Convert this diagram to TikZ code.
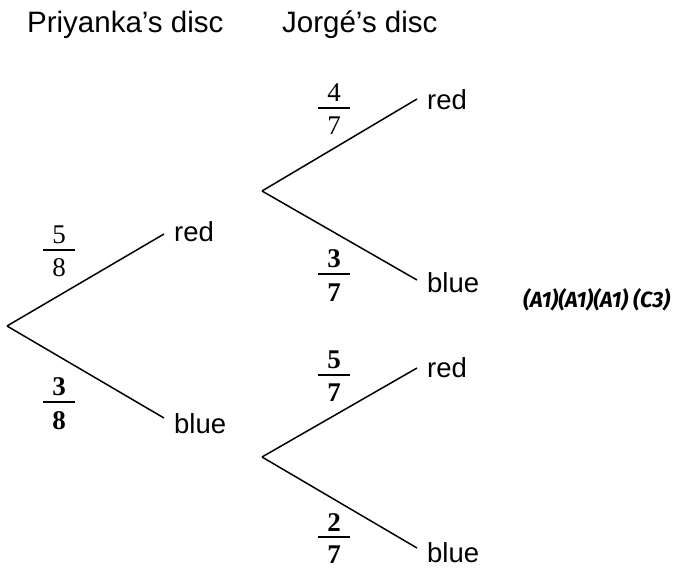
\documentclass[tikz,border=0pt]{standalone}
\usepackage{fontspec}
\setmainfont{Liberation Sans}
\newfontfamily\serifnum{Liberation Serif}
\newfontfamily\firafont{Fira Sans}
\newcommand{\myfrac}[2]{\vbox{\offinterlineskip\hbox to 32pt{\hss#1\hss}\kern5pt\hrule height 2.2pt\kern8pt\hbox to 32pt{\hss#2\hss}}}
\begin{document}
\begin{tikzpicture}[x=1pt,y=-1pt,
  branch/.style={line width=1.5pt},
  lab/.style={anchor=base west,inner sep=0pt,font=\fontsize{27.5}{33}\selectfont},
  head/.style={anchor=base west,inner sep=0pt,font=\fontsize{29.5}{35}\selectfont},
  frn/.style={inner sep=0pt,font=\fontsize{27}{32}\selectfont\serifnum},
  frb/.style={inner sep=0pt,font=\fontsize{27}{32}\selectfont\serifnum\bfseries}]
\useasboundingbox (0,0) rectangle (674,573);
% headers
\node[head] (h1) at (27,32) {Priyanka’s disc};
\node[head] (h2) at (282,32) {Jorgé’s disc};
% first level
\coordinate (r0) at (7,326);
\coordinate (e1) at (164,234);
\coordinate (e2) at (164,418);
\draw[branch] (r0) -- (e1);
\draw[branch] (r0) -- (e2);
\node[lab] (t1) at (174,241) {red};
\node[lab] (t2) at (174,433) {blue};
\node[frn] (f1) at (59,251.5) {\myfrac{5}{8}};
\node[frb] (f2) at (59,403.5) {\myfrac{3}{8}};
% second level upper
\coordinate (r1) at (262,191);
\coordinate (e3) at (417,99);
\coordinate (e4) at (417,280);
\draw[branch] (r1) -- (e3);
\draw[branch] (r1) -- (e4);
\node[lab] (t3) at (427,109) {red};
\node[lab] (t4) at (427,292) {blue};
\node[frn] (f3) at (334,109.5) {\myfrac{4}{7}};
\node[frb] (f4) at (334,275.5) {\myfrac{3}{7}};
% second level lower
\coordinate (r2) at (262,457);
\coordinate (e5) at (417,368);
\coordinate (e6) at (417,548);
\draw[branch] (r2) -- (e5);
\draw[branch] (r2) -- (e6);
\node[lab] (t5) at (427,377) {red};
\node[lab] (t6) at (427,562) {blue};
\node[frb] (f5) at (334,376.5) {\myfrac{5}{7}};
\node[frb] (f6) at (334,538.5) {\myfrac{2}{7}};
% marks
\node[anchor=west,inner sep=0pt,font=\fontsize{22}{26}\selectfont\firafont\bfseries\itshape] (m) at (523,300) {\resizebox{147pt}{\height}{(A1)(A1)(A1) (C3)}};
\end{tikzpicture}
\end{document}
